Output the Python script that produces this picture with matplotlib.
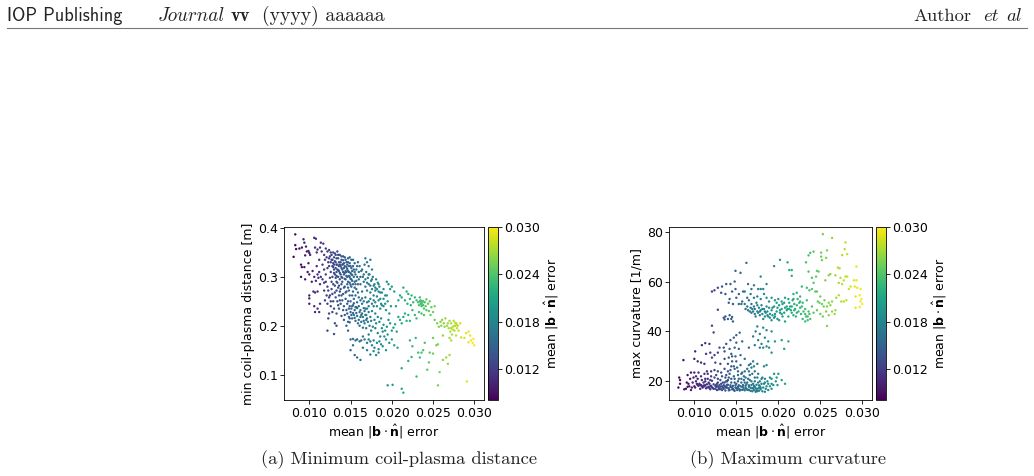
#!/usr/bin/env python3
"""Scatter panels of coil metrics against mean field error, with page furniture."""

import matplotlib

matplotlib.use("Agg")
import matplotlib.pyplot as plt
import numpy as np

# (mean error, min coil-plasma distance)
coil_sparse = [
    (.0083, .387), (.0081, .341), (.0083, .365), (.0084, .357), (.0088, .358), (.0091, .360),
    (.0093, .377), (.0094, .370), (.0096, .362), (.0099, .353), (.0100, .349), (.0097, .352),
    (.0101, .345), (.0095, .344), (.0106, .380), (.0108, .378), (.0107, .360), (.0110, .356),
    (.0113, .360), (.0114, .370), (.0117, .368), (.0109, .350), (.0090, .325), (.0091, .320),
    (.0094, .320), (.0099, .328), (.0090, .300), (.0095, .295), (.0098, .310), (.0100, .305),
    (.0100, .256), (.0100, .245), (.0100, .262), (.0105, .270), (.0107, .268), (.0110, .270),
    (.0106, .240), (.0110, .235), (.0112, .228), (.0107, .228), (.0113, .245), (.0103, .290),
    (.0106, .300), (.0108, .292), (.0110, .305), (.0104, .312), (.0109, .322), (.0112, .335),
    (.0122, .190), (.0123, .215), (.0124, .225), (.0130, .183), (.0131, .205), (.0133, .200),
    (.0126, .240), (.0124, .258), (.0126, .250), (.0128, .265), (.0130, .235), (.0133, .225),
    (.0136, .235), (.0139, .220), (.0142, .212), (.0145, .200), (.0147, .190), (.0149, .207),
    (.0150, .150), (.0153, .160), (.0155, .140), (.0158, .135), (.0162, .130), (.0150, .172),
    (.0153, .173), (.0156, .170), (.0158, .172), (.0161, .168), (.0165, .155), (.0170, .150),
    (.0174, .141), (.0178, .148), (.0181, .140), (.0184, .145), (.0185, .168), (.0189, .158),
    (.0193, .150), (.0197, .165), (.0200, .172), (.0203, .160), (.0207, .155), (.0212, .113),
    (.0195, .078), (.0201, .079), (.0212, .071), (.0214, .063), (.0220, .128), (.0224, .136),
    (.0230, .096), (.0232, .145), (.0234, .135), (.0236, .145), (.0238, .150), (.0243, .110),
    (.0245, .125), (.0250, .143), (.0254, .160), (.0256, .078), (.0258, .105), (.0262, .130),
    (.0266, .135), (.0268, .122), (.0270, .140), (.0291, .086), (.0246, .145), (.0240, .165),
    (.0222, .170), (.0225, .158), (.0229, .175), (.0250, .175), (.0256, .162), (.0262, .180),
    (.0272, .170), (.0278, .180), (.0284, .176), (.0290, .185), (.0293, .188), (.0295, .180),
    (.0293, .166), (.0298, .165), (.0299, .173), (.0300, .160), (.0296, .170), (.0288, .175),
]
coil_band = [
    (.0115, .352), (.0118, .345), (.0120, .358), (.0122, .352), (.0124, .355), (.0126, .350),
    (.0119, .335), (.0121, .340), (.0123, .330), (.0125, .342), (.0127, .345), (.0116, .325),
    (.0118, .315), (.0120, .305), (.0122, .318), (.0124, .322), (.0126, .310), (.0128, .335),
    (.0112, .310), (.0114, .300), (.0116, .295), (.0118, .288), (.0113, .285), (.0111, .298),
    (.0120, .290), (.0122, .280), (.0125, .298), (.0127, .290), (.0129, .350), (.0130, .340),
    (.0131, .332), (.0132, .345), (.0133, .325), (.0134, .352), (.0135, .338), (.0136, .330),
    (.0137, .345), (.0138, .322), (.0139, .335), (.0140, .315), (.0141, .342), (.0142, .328),
    (.0143, .308), (.0144, .335), (.0145, .320), (.0146, .300), (.0147, .330), (.0148, .310),
    (.0149, .340), (.0150, .322), (.0151, .295), (.0152, .312), (.0153, .335), (.0154, .300),
    (.0155, .328), (.0156, .285), (.0157, .315), (.0158, .300), (.0129, .320), (.0130, .315),
    (.0131, .305), (.0132, .318), (.0133, .310), (.0134, .325), (.0135, .300), (.0136, .312),
    (.0137, .295), (.0138, .305), (.0139, .318), (.0140, .298), (.0141, .326), (.0142, .305),
    (.0143, .322), (.0144, .295), (.0145, .310), (.0146, .325), (.0147, .290), (.0148, .322),
    (.0149, .300), (.0150, .308), (.0151, .318), (.0152, .292), (.0128, .300), (.0129, .285),
    (.0131, .282), (.0133, .290), (.0135, .278), (.0137, .270), (.0139, .285), (.0141, .265),
    (.0143, .280), (.0145, .270), (.0147, .278), (.0149, .262), (.0151, .280), (.0153, .270),
    (.0155, .290), (.0157, .275), (.0159, .268), (.0132, .258), (.0134, .250), (.0136, .262),
    (.0138, .245), (.0140, .252), (.0142, .240), (.0144, .255), (.0146, .245), (.0148, .235),
    (.0150, .250), (.0152, .240), (.0154, .255), (.0156, .238), (.0158, .248), (.0160, .240),
    (.0162, .252), (.0164, .245), (.0166, .250), (.0168, .235), (.0170, .248), (.0172, .240),
    (.0146, .225), (.0148, .218), (.0150, .228), (.0152, .215), (.0154, .222), (.0156, .210),
    (.0158, .220), (.0160, .212), (.0162, .218), (.0164, .225), (.0166, .210), (.0168, .222),
    (.0170, .215), (.0172, .228), (.0174, .218), (.0176, .230), (.0178, .240), (.0180, .225),
    (.0159, .330), (.0161, .322), (.0163, .312), (.0165, .300), (.0160, .295), (.0162, .285),
    (.0164, .270), (.0166, .290), (.0167, .325), (.0168, .338), (.0170, .330), (.0172, .322),
    (.0174, .335), (.0176, .315), (.0169, .310), (.0171, .298), (.0173, .305), (.0175, .292),
    (.0177, .300), (.0179, .285), (.0168, .280), (.0170, .272), (.0172, .285), (.0174, .268),
    (.0176, .275), (.0178, .262), (.0180, .272), (.0182, .260), (.0184, .270), (.0186, .255),
    (.0188, .268), (.0190, .275), (.0192, .262), (.0194, .290), (.0196, .285), (.0198, .275),
    (.0200, .280), (.0203, .270), (.0181, .295), (.0183, .288), (.0185, .280), (.0187, .245),
    (.0190, .240), (.0193, .232), (.0195, .250), (.0197, .225), (.0199, .240), (.0169, .195),
    (.0172, .182), (.0175, .190), (.0178, .170), (.0180, .195), (.0183, .185), (.0186, .178),
    (.0188, .195), (.0190, .202), (.0192, .190), (.0194, .198), (.0196, .212), (.0198, .205),
    (.0200, .190), (.0202, .196), (.0204, .203), (.0206, .188), (.0208, .218), (.0210, .212),
    (.0212, .205), (.0214, .218), (.0216, .225), (.0218, .210), (.0220, .222), (.0222, .210),
    (.0205, .240), (.0208, .252), (.0210, .262), (.0212, .258), (.0214, .278), (.0216, .252),
    (.0218, .270), (.0220, .265), (.0222, .255), (.0224, .262), (.0226, .248), (.0228, .258),
    (.0230, .252), (.0232, .248), (.0234, .258), (.0235, .245), (.0236, .240), (.0237, .250),
    (.0238, .242), (.0239, .235), (.0240, .248), (.0242, .254), (.0244, .245), (.0246, .250),
    (.0248, .238), (.0250, .228), (.0252, .240), (.0233, .228), (.0236, .225), (.0239, .222),
    (.0225, .232), (.0228, .222), (.0230, .215), (.0252, .212), (.0255, .205), (.0257, .198),
    (.0259, .208), (.0261, .212), (.0263, .205), (.0265, .215), (.0267, .200), (.0269, .195),
    (.0271, .188), (.0272, .205), (.0274, .198), (.0275, .210), (.0276, .190), (.0277, .200),
    (.0278, .205), (.0279, .195), (.0280, .200), (.0281, .190), (.0283, .205), (.0270, .175),
    (.0273, .182),
]
coil_dense = [
    (.0127, .335), (.0129, .328), (.0131, .348), (.0133, .338), (.0135, .345), (.0137, .325),
    (.0139, .342), (.0141, .334), (.0143, .340), (.0145, .330), (.0147, .338), (.0149, .328),
    (.0151, .335), (.0153, .322), (.0155, .310), (.0130, .325), (.0132, .330), (.0134, .315),
    (.0136, .322), (.0138, .330), (.0140, .325), (.0142, .318), (.0144, .312), (.0146, .316),
    (.0148, .302), (.0150, .296), (.0152, .304), (.0154, .315), (.0156, .305), (.0158, .322),
    (.0133, .302), (.0135, .314), (.0137, .308), (.0139, .300), (.0141, .310), (.0143, .296),
    (.0145, .302), (.0147, .312), (.0149, .288), (.0151, .305), (.0153, .285), (.0155, .278),
    (.0157, .292), (.0159, .285), (.0124, .338), (.0126, .330), (.0128, .322), (.0130, .308),
    (.0132, .298), (.0134, .288), (.0136, .282), (.0138, .275), (.0140, .290), (.0142, .278),
    (.0144, .268), (.0146, .285), (.0148, .272), (.0150, .284), (.0152, .262), (.0154, .246),
    (.0156, .262), (.0158, .236), (.0160, .258), (.0162, .232), (.0164, .256), (.0166, .236),
    (.0168, .258), (.0170, .235), (.0172, .250), (.0174, .255), (.0176, .245), (.0178, .252),
    (.0180, .248), (.0182, .240), (.0184, .252), (.0186, .235), (.0188, .242), (.0190, .255),
    (.0192, .245), (.0194, .262), (.0160, .310), (.0162, .300), (.0164, .315), (.0166, .305),
    (.0168, .295), (.0170, .288), (.0172, .305), (.0174, .282), (.0176, .295), (.0178, .282),
    (.0180, .278), (.0182, .275), (.0184, .285), (.0186, .268), (.0157, .238), (.0155, .232),
    (.0153, .226), (.0151, .235), (.0149, .215), (.0147, .208), (.0161, .228), (.0163, .222),
    (.0165, .218), (.0167, .230), (.0169, .222), (.0171, .208), (.0173, .200), (.0175, .210),
    (.0177, .198), (.0179, .212), (.0181, .205), (.0183, .218), (.0185, .208), (.0187, .215),
    (.0189, .188), (.0191, .178), (.0193, .172), (.0195, .182), (.0174, .168), (.0176, .160),
    (.0179, .155), (.0182, .165), (.0184, .152), (.0187, .162), (.0167, .172), (.0170, .165),
    (.0172, .172), (.0165, .178), (.0163, .170), (.0234, .250), (.0236, .248), (.0238, .250),
    (.0237, .244), (.0235, .252), (.0233, .242), (.0241, .240), (.0242, .232), (.0245, .230),
    (.0247, .222), (.0223, .242), (.0219, .245), (.0276, .200), (.0279, .202), (.0277, .206),
    (.0274, .192), (.0272, .195), (.0268, .205), (.0270, .210), (.0264, .198), (.0260, .200),
    (.0118, .272), (.0121, .262), (.0123, .272), (.0119, .252), (.0122, .245), (.0125, .262),
    (.0127, .275), (.0129, .250), (.0131, .268), (.0133, .272), (.0128, .228), (.0135, .242),
    (.0137, .252), (.0139, .262), (.0141, .232), (.0143, .222), (.0145, .232), (.0147, .250),
    (.0149, .240), (.0151, .222), (.0153, .242), (.0155, .216), (.0157, .226), (.0159, .205),
    (.0161, .200), (.0163, .208), (.0165, .196), (.0167, .205), (.0169, .212),
]

# (mean error, max curvature)
curv_upper = [
    (.0253, 79.0), (.0264, 77.5), (.0280, 75.7), (.0279, 73.0), (.0282, 71.0), (.0276, 70.6),
    (.0258, 72.5), (.0251, 71.6), (.0251, 70.0), (.0257, 69.5), (.0252, 68.6), (.0242, 72.0),
    (.0238, 71.5), (.0236, 70.5), (.0233, 67.7), (.0202, 68.7), (.0211, 67.7), (.0195, 66.2),
    (.0162, 67.5), (.0213, 64.6), (.0216, 64.6), (.0216, 62.3), (.0149, 64.3), (.0155, 63.5),
    (.0179, 62.0), (.0293, 66.0), (.0271, 65.6), (.0273, 65.3), (.0246, 64.3), (.0248, 64.0),
    (.0236, 64.0), (.0240, 61.5), (.0242, 59.5), (.0245, 62.0), (.0256, 60.5), (.0260, 62.5),
    (.0262, 63.0), (.0268, 62.5), (.0272, 59.5), (.0274, 61.5), (.0276, 59.0), (.0278, 60.5),
    (.0280, 62.0), (.0282, 62.0), (.0284, 57.0), (.0286, 58.0), (.0290, 60.5), (.0293, 60.5),
    (.0291, 58.0), (.0294, 57.5), (.0298, 57.0), (.0292, 54.0), (.0297, 54.5), (.0299, 53.0),
    (.0300, 51.0), (.0298, 52.0), (.0292, 49.5), (.0297, 49.8), (.0281, 52.5), (.0278, 52.0),
    (.0275, 52.0), (.0272, 54.5), (.0269, 53.5), (.0264, 52.0), (.0260, 51.5), (.0258, 50.0),
    (.0255, 52.5), (.0252, 51.0), (.0250, 54.0), (.0247, 52.0), (.0244, 56.0), (.0240, 57.0),
    (.0237, 56.5), (.0234, 57.5), (.0228, 58.0), (.0222, 55.5), (.0226, 54.0), (.0218, 55.0),
    (.0229, 51.5), (.0234, 52.5), (.0240, 50.0), (.0236, 48.0), (.0232, 47.0), (.0229, 45.0),
    (.0232, 44.0), (.0235, 46.0), (.0238, 45.0), (.0242, 47.5), (.0246, 48.5), (.0250, 47.0),
    (.0253, 46.0), (.0257, 48.0), (.0260, 46.5), (.0264, 48.0), (.0267, 47.0), (.0258, 42.2),
    (.0232, 49.0), (.0226, 49.5), (.0222, 47.5), (.0218, 46.5), (.0215, 48.5), (.0212, 46.0),
    (.0208, 44.0), (.0205, 46.0), (.0202, 47.5), (.0198, 48.0), (.0195, 45.5), (.0192, 44.5),
    (.0188, 46.0), (.0185, 47.5), (.0182, 45.0), (.0178, 46.5), (.0175, 48.0), (.0172, 47.0),
    (.0169, 49.0), (.0166, 48.0), (.0163, 50.0), (.0160, 51.0), (.0157, 52.0), (.0165, 52.5),
    (.0168, 51.0), (.0171, 50.0), (.0174, 51.5), (.0177, 49.5), (.0180, 50.5), (.0183, 49.0),
    (.0186, 50.0), (.0189, 49.5), (.0192, 48.5), (.0195, 50.0), (.0198, 51.5), (.0201, 50.5),
    (.0204, 49.0), (.0207, 51.5), (.0210, 50.0), (.0213, 51.5), (.0216, 50.0), (.0219, 51.0),
    (.0222, 50.5), (.0225, 51.5), (.0228, 50.0), (.0186, 53.5), (.0189, 52.0), (.0192, 53.5),
    (.0196, 52.5), (.0200, 53.0), (.0204, 52.0), (.0208, 53.5), (.0212, 53.0), (.0218, 53.0),
    (.0175, 54.0), (.0179, 53.0), (.0183, 55.0), (.0171, 53.5), (.0167, 55.0), (.0163, 53.5),
    (.0158, 56.0), (.0153, 55.0), (.0149, 57.0), (.0145, 56.0), (.0150, 53.5), (.0146, 51.0),
    (.0142, 53.0), (.0141, 51.5), (.0153, 51.0), (.0156, 51.0), (.0148, 60.0), (.0143, 59.0),
    (.0138, 59.0), (.0133, 58.0), (.0128, 57.5), (.0124, 56.5), (.0121, 56.0), (.0132, 55.5),
    (.0137, 55.0), (.0171, 58.5), (.0176, 57.0), (.0179, 57.0), (.0182, 57.0), (.0186, 59.0),
    (.0160, 56.0), (.0164, 59.0), (.0168, 57.0), (.0128, 48.7), (.0135, 45.5), (.0137, 46.0),
    (.0140, 45.0), (.0142, 46.5), (.0144, 45.0), (.0146, 44.0), (.0145, 45.8), (.0136, 44.8),
    (.0167, 49.5), (.0170, 48.0), (.0173, 46.0), (.0176, 47.5), (.0179, 48.5), (.0181, 47.0),
    (.0184, 46.0), (.0187, 48.0), (.0190, 47.0), (.0193, 46.5), (.0196, 47.0), (.0199, 45.0),
    (.0201, 44.5), (.0204, 47.0), (.0207, 47.5), (.0210, 48.5), (.0213, 49.0), (.0216, 47.5),
    (.0219, 48.5), (.0221, 46.0), (.0224, 48.0), (.0227, 47.0), (.0230, 48.0), (.0233, 46.0),
    (.0235, 44.5), (.0237, 47.0), (.0161, 49.0), (.0164, 48.5), (.0168, 47.5), (.0172, 49.0),
    (.0175, 50.5), (.0178, 48.0), (.0181, 49.0), (.0184, 48.0), (.0187, 46.5), (.0190, 45.5),
    (.0193, 49.5), (.0196, 46.0), (.0199, 49.5), (.0202, 48.5), (.0205, 51.0), (.0208, 49.5),
    (.0211, 49.0), (.0214, 50.0), (.0217, 52.5), (.0220, 49.0), (.0223, 53.0), (.0226, 52.0),
    (.0246, 56.0), (.0249, 51.5), (.0254, 50.0), (.0262, 50.5), (.0268, 48.5),
]
curv_lower = [
    (.0121, 42.3), (.0123, 39.6), (.0150, 38.5), (.0154, 39.5), (.0147, 37.5), (.0143, 36.5),
    (.0150, 35.5), (.0138, 35.0), (.0135, 33.5), (.0142, 33.0), (.0130, 33.5), (.0128, 31.5),
    (.0124, 30.5), (.0118, 35.0), (.0113, 35.3), (.0109, 34.5), (.0114, 31.0), (.0119, 31.5),
    (.0101, 32.0), (.0087, 28.5), (.0100, 29.0), (.0104, 28.0), (.0108, 27.5), (.0112, 27.0),
    (.0121, 29.5), (.0125, 27.5), (.0131, 27.0), (.0136, 29.0), (.0140, 27.0), (.0145, 30.0),
    (.0150, 28.0), (.0155, 30.5), (.0160, 29.0), (.0165, 26.5), (.0170, 28.0), (.0175, 27.0),
    (.0165, 33.5), (.0170, 38.0), (.0173, 40.0), (.0175, 42.0), (.0178, 39.0), (.0182, 41.5),
    (.0186, 40.5), (.0192, 40.0), (.0176, 36.5), (.0180, 35.0), (.0184, 37.5), (.0188, 36.0),
    (.0172, 34.5), (.0178, 33.5), (.0182, 33.5), (.0186, 34.0), (.0189, 33.5), (.0192, 31.5),
    (.0196, 36.0), (.0204, 36.5), (.0207, 33.0), (.0212, 36.0), (.0183, 26.0), (.0186, 26.5),
    (.0195, 23.0), (.0198, 21.5), (.0200, 23.0), (.0197, 20.0), (.0204, 20.5), (.0208, 19.0),
    (.0199, 18.5), (.0192, 19.0), (.0190, 21.5), (.0187, 20.0), (.0184, 21.0), (.0181, 21.5),
    (.0178, 20.0), (.0175, 21.5), (.0172, 20.0), (.0169, 23.0), (.0166, 22.5), (.0172, 24.0),
    (.0168, 25.5), (.0160, 24.0), (.0156, 23.0), (.0152, 24.0), (.0148, 25.0), (.0144, 26.0),
    (.0140, 24.0), (.0136, 25.0), (.0132, 23.5), (.0128, 24.0), (.0124, 24.5), (.0120, 24.0),
    (.0116, 23.0), (.0112, 23.0), (.0108, 22.0), (.0105, 23.5), (.0100, 23.5), (.0096, 23.5),
    (.0092, 22.5), (.0082, 21.5), (.0083, 20.5), (.0083, 19.0), (.0081, 17.5), (.0090, 17.0),
    (.0094, 18.0), (.0096, 16.5), (.0098, 19.5), (.0100, 18.0), (.0102, 20.0), (.0091, 19.5),
    (.0095, 21.0), (.0104, 18.5), (.0106, 19.0), (.0107, 17.0), (.0108, 18.5), (.0109, 20.5),
    (.0110, 17.5), (.0111, 19.5), (.0112, 18.0), (.0113, 20.0), (.0114, 17.2), (.0115, 18.8),
    (.0116, 21.0), (.0117, 17.8), (.0118, 19.0), (.0119, 16.8), (.0120, 18.2), (.0121, 20.2),
    (.0122, 17.3), (.0123, 18.8), (.0124, 21.5), (.0125, 17.0), (.0126, 18.5), (.0127, 16.5),
    (.0128, 19.5), (.0129, 17.5), (.0130, 18.5), (.0131, 20.5), (.0132, 16.8), (.0133, 18.0),
    (.0134, 19.5), (.0135, 17.0), (.0136, 18.2), (.0137, 16.3), (.0138, 20.0), (.0139, 17.4),
    (.0140, 18.6), (.0141, 21.5), (.0142, 16.5), (.0143, 17.8), (.0144, 19.5), (.0145, 16.8),
    (.0146, 18.2), (.0147, 22.0), (.0148, 16.2), (.0149, 17.5), (.0150, 19.0), (.0151, 16.5),
    (.0152, 17.8), (.0153, 21.0), (.0154, 16.3), (.0155, 18.0), (.0156, 19.5), (.0157, 16.6),
    (.0158, 17.6), (.0159, 20.5), (.0160, 16.4), (.0161, 18.2), (.0162, 17.0), (.0163, 19.5),
    (.0164, 16.6), (.0165, 17.8), (.0166, 20.5), (.0167, 16.2), (.0168, 18.5), (.0169, 17.2),
    (.0170, 19.0), (.0171, 16.5), (.0172, 17.8), (.0173, 15.8), (.0174, 18.6), (.0175, 17.0),
    (.0176, 19.5), (.0177, 16.2), (.0178, 18.0), (.0179, 16.8), (.0180, 21.0), (.0181, 16.0),
    (.0182, 17.5), (.0183, 19.0), (.0184, 15.8), (.0185, 17.0), (.0186, 18.0), (.0188, 16.5),
    (.0190, 18.0), (.0192, 17.0), (.0194, 18.5), (.0128, 21.0), (.0133, 22.0), (.0137, 21.5),
    (.0142, 23.0), (.0148, 21.0), (.0152, 22.5), (.0157, 23.5), (.0161, 21.5), (.0165, 24.0),
    (.0139, 20.0), (.0126, 22.5), (.0120, 22.0), (.0134, 17.5), (.0146, 17.0), (.0158, 18.5),
    (.0170, 17.3), (.0118, 17.2), (.0126, 17.8), (.0130, 16.9), (.0138, 17.9), (.0150, 17.2),
    (.0162, 18.8), (.0174, 16.4), (.0141, 17.2), (.0153, 17.0), (.0165, 16.5), (.0177, 17.3),
    (.0101, 17.5), (.0103, 19.0), (.0105, 18.2), (.0107, 18.5), (.0109, 18.0), (.0111, 18.3),
    (.0113, 18.5), (.0115, 17.5), (.0117, 19.5), (.0119, 18.0), (.0121, 17.6), (.0123, 17.0),
    (.0125, 18.2), (.0127, 19.0), (.0129, 16.8), (.0131, 17.8), (.0133, 16.5), (.0135, 18.4),
    (.0137, 17.5), (.0139, 18.6), (.0141, 16.4), (.0143, 18.4), (.0145, 17.6), (.0147, 16.5),
    (.0149, 18.4), (.0151, 17.4), (.0153, 18.4), (.0155, 16.6), (.0157, 17.8), (.0159, 16.8),
    (.0161, 17.4), (.0163, 16.6), (.0165, 18.4), (.0167, 17.4), (.0169, 16.0), (.0171, 18.2),
    (.0173, 17.2), (.0175, 16.0), (.0177, 18.4), (.0179, 17.4), (.0128, 18.0), (.0132, 19.0),
    (.0136, 19.5), (.0140, 20.5), (.0144, 21.0), (.0148, 19.5), (.0152, 20.0), (.0156, 21.0),
    (.0160, 19.5), (.0164, 21.0), (.0168, 20.0), (.0172, 21.5), (.0176, 23.0), (.0180, 19.0),
    (.0184, 19.5), (.0188, 19.0), (.0192, 21.0), (.0138, 22.5), (.0143, 24.5), (.0147, 26.0),
    (.0151, 25.5), (.0155, 26.5), (.0159, 22.0), (.0163, 25.0), (.0167, 27.0), (.0171, 26.0),
    (.0145, 28.0), (.0149, 30.0), (.0141, 29.5), (.0153, 33.0), (.0157, 36.0), (.0148, 33.5),
    (.0144, 31.0), (.0136, 32.0), (.0113, 21.0), (.0119, 20.5), (.0104, 21.0), (.0099, 21.5),
    (.0093, 19.0), (.0097, 17.5), (.0088, 16.8), (.0092, 17.8), (.0102, 22.0), (.0115, 24.0),
]
cbar_ticks = [0.012, 0.018, 0.024, 0.030]
err_min, err_max = 0.0081, 0.030

W, H = 1034, 476


def px_axes(fig, left, right, top, bottom):
    return fig.add_axes([left / W, 1 - bottom / H, (right - left) / W, (bottom - top) / H])


def scatter_panel(fig, frame, cax_x, xlim, ylim, yticks, yfmt, ylabel, *groups):
    left, right, top, bottom = frame
    ax = px_axes(fig, left, right, top, bottom)
    pts = np.array([p for group in groups for p in group])
    sc = ax.scatter(pts[:, 0], pts[:, 1], c=pts[:, 0], cmap="viridis",
                    vmin=err_min, vmax=err_max, s=3.0, linewidths=0)
    ax.set_xlim(*xlim)
    ax.set_ylim(*ylim)
    ax.set_xticks([0.010, 0.015, 0.020, 0.025, 0.030])
    ax.set_xticklabels(["0.010", "0.015", "0.020", "0.025", "0.030"])
    ax.set_yticks(yticks)
    ax.set_yticklabels([yfmt.format(v) for v in yticks])
    ax.set_xlabel(r"mean $|\mathbf{b}\cdot\hat{\mathbf{n}}|$ error", fontsize=9.0, labelpad=2.2)
    ax.set_ylabel(ylabel, fontsize=9.0, labelpad=2)
    ax.tick_params(labelsize=9.0, length=2.6, width=0.6, pad=2.2)
    for spine in ax.spines.values():
        spine.set_linewidth(0.6)

    cax = px_axes(fig, cax_x[0], cax_x[1], top, bottom)
    cbar = fig.colorbar(sc, cax=cax, ticks=cbar_ticks)
    cbar.ax.set_yticklabels([f"{v:.3f}" for v in cbar_ticks])
    cbar.ax.tick_params(labelsize=9.0, length=2.6, width=0.6, pad=2.2)
    cbar.outline.set_linewidth(0.6)
    cbar.set_label(r"mean $|\mathbf{b}\cdot\hat{\mathbf{n}}|$ error", fontsize=9.0, labelpad=2)


def main():
    fig = plt.figure(figsize=(W / 100, H / 100), dpi=100, facecolor="white")

    scatter_panel(fig, (284.3, 484, 226.7, 400), (488.3, 497.7),
                  (0.00697, 0.03118), (0.048, 0.4027), [0.1, 0.2, 0.3, 0.4], "{:.1f}",
                  "min coil-plasma distance [m]", coil_sparse, coil_band, coil_dense)
    scatter_panel(fig, (669.3, 871.7, 226.7, 400), (876.3, 885.7),
                  (0.00702, 0.03112), (12.5, 82), [20, 40, 60, 80], "{:d}",
                  "max curvature [1/m]", curv_upper, curv_lower)

    # running head
    ink = "#222222"
    base = 1 - 21 / H
    fig.text(7 / W, base, "IOP Publishing", family="cmss10", fontsize=13.2, color=ink)
    fig.text(158 / W, base, "Journal", family="cmmi10", fontsize=13.8, color=ink)
    fig.text(231 / W, base, "vv", family="cmb10", fontsize=13.4, color=ink)
    fig.text(262 / W, base, "(yyyy) aaaaaa", family="cmr10", fontsize=14.2, color=ink)
    fig.text(913 / W, base, "Author", family="cmr10", fontsize=13.4, color=ink)
    fig.text(983 / W, base, "et", family="cmmi10", fontsize=13.4, color=ink)
    fig.text(1022 / W, base, "al", family="cmmi10", fontsize=13.4, color=ink, ha="right")
    fig.add_artist(plt.Line2D([7 / W, 1027 / W], [1 - 28 / H, 1 - 28 / H], color="#777777", lw=0.8))

    # subfigure captions
    fig.text(399 / W, 1 - 464 / H, "(a) Minimum coil-plasma distance", family="cmr10",
             fontsize=13.3, ha="center", color=ink)
    fig.text(788 / W, 1 - 464 / H, "(b) Maximum curvature", family="cmr10",
             fontsize=13.3, ha="center", color=ink)

    fig.savefig("out.png", dpi=100, facecolor="white")
    plt.close(fig)


if __name__ == "__main__":
    main()
